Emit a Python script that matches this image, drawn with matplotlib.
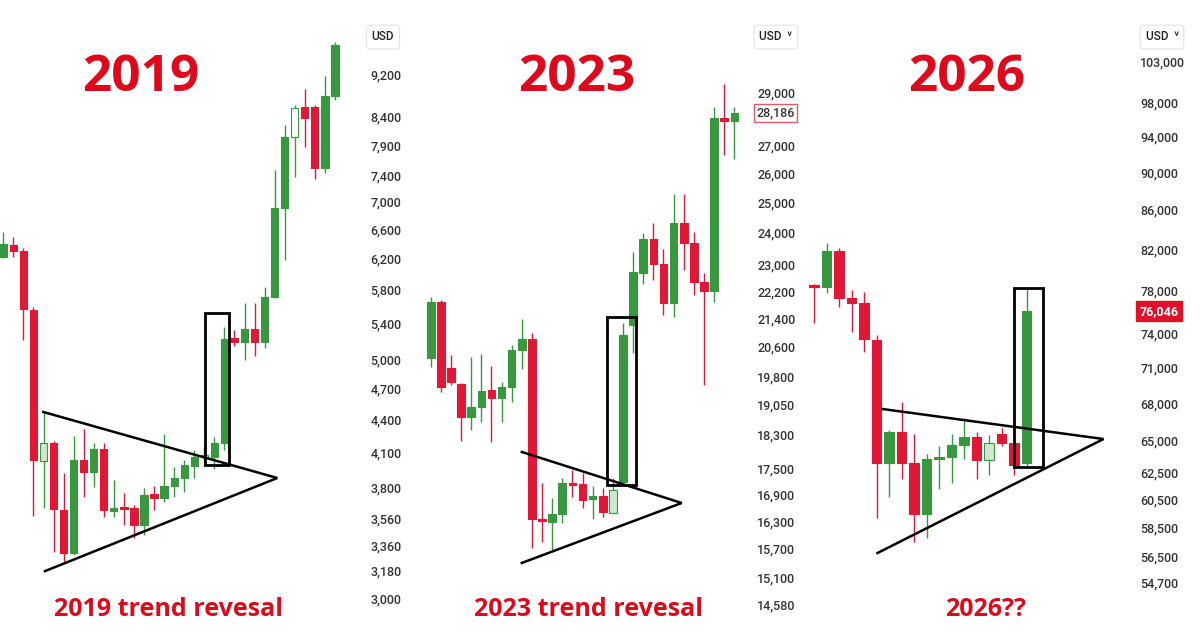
import matplotlib
matplotlib.use("Agg")
import matplotlib.pyplot as plt
import matplotlib.transforms as mtransforms
from matplotlib.patches import Rectangle
from matplotlib.ticker import FixedLocator, NullLocator, FuncFormatter
import numpy as np

# ---- 2019 panel (BTC weekly candles, USD) ----
open_2019 = [6220, 6381, 6301, 5554, 4022, 4179, 3621, 3303, 4030, 3928, 4126, 3613, 3645, 3637,
             3507, 3747, 3715, 3812, 3878, 3979, 4056, 4056, 4179, 5231, 5186, 5333, 5186, 5710,
             6908, 8040, 8573, 8573, 7525, 8777]
close_2019 = [6395, 6301, 5566, 4030, 4179, 3629, 3303, 4030, 3928, 4126, 3621, 3637, 3629, 3507,
              3739, 3715, 3812, 3878, 3987, 4056, 4073, 4179, 5220, 5186, 5333, 5186, 5710, 6908,
              8040, 8555, 8374, 7525, 8777, 9790]
high_2019 = [6561, 6492, 6341, 5590, 4466, 4197, 3920, 4242, 4306, 4179, 4179, 3861, 3755, 3661,
             3796, 3812, 4260, 3970, 4030, 4117, 4144, 4233, 5355, 5321, 5638, 5638, 5833, 7493,
             8250, 8610, 8910, 8610, 9161, 9850]
low_2019 = [6207, 6220, 5209, 3575, 3637, 3310, 3240, 3289, 3723, 3804, 3567, 3567, 3507, 3411,
            3433, 3621, 3683, 3723, 3763, 3878, 3979, 3953, 4117, 5141, 4991, 5034, 5121, 5698,
            6181, 7381, 7870, 7350, 7444, 8703]
light_2019 = [4, 20]
hollow_2019 = [29]
ticks_2019 = [3000, 3180, 3360, 3560, 3800, 4100, 4400, 4700, 5000, 5400, 5800, 6200, 6600,
              7000, 7400, 7900, 8400, 9200]

# ---- 2023 panel ----
open_2023 = [20288, 21874, 20018, 19592, 18744, 18997, 19435, 19227, 19514, 20507, 20812, 16344,
             16279, 16454, 17153, 17130, 16788, 16857, 16476, 17176, 21208, 22742, 23805, 23019,
             21844, 24323, 23678, 22469, 22199, 28006, 27893]
close_2023 = [21874, 19514, 19645, 18744, 18997, 19409, 19227, 19514, 20507, 20812, 16344, 16300,
              16454, 17153, 17108, 16766, 16857, 16498, 16993, 20925, 22773, 23805, 23019, 21844,
              24323, 23678, 22469, 22199, 28006, 27893, 28186]
high_2023 = [22022, 21933, 20371, 19618, 20316, 20397, 20072, 19645, 20645, 21379, 20980, 17153,
             16811, 17269, 17456, 17385, 17084, 17038, 17269, 21264, 23393, 23998, 24323, 23487,
             25289, 25289, 24030, 22742, 28423, 29315, 28423]
low_2023 = [20046, 19383, 19567, 18149, 18419, 18618, 18125, 18618, 19124, 19991, 15719, 15846,
            15677, 16257, 16834, 16587, 16344, 16389, 16587, 17108, 20425, 22409, 22530, 21495,
            21437, 22835, 22081, 19567, 21874, 26650, 26506]
light_2023 = [18]
hollow_2023 = []
ticks_2023 = [14580, 15100, 15700, 16300, 16900, 17500, 18300, 19050, 19800, 20600, 21400,
              22200, 23000, 24000, 25000, 26000, 27000, 29000]
last_2023 = 28186

# ---- 2026 panel ----
open_2026 = [78497, 78308, 81806, 77268, 76802, 73430, 63250, 65674, 63250, 59453, 63556, 63713,
             64645, 65278, 63480, 65513, 64804, 63250]
close_2026 = [78308, 81806, 77268, 76802, 73518, 63250, 65674, 63250, 59453, 63556, 63713, 64645,
              65278, 63480, 64804, 64804, 63096, 76046]
high_2026 = [78591, 82602, 82099, 78023, 77834, 73878, 65833, 68108, 65513, 63942, 64568, 65513,
             66796, 65674, 65435, 65990, 65042, 78117]
low_2026 = [74961, 77741, 76430, 74147, 72369, 59165, 60693, 62032, 57468, 57745, 61283, 61734,
            63556, 62032, 62335, 64568, 62335, 62864]
light_2026 = [14]
hollow_2026 = []
ticks_2026 = [54700, 56500, 58500, 60500, 62500, 65000, 68000, 71000, 74000, 78000, 82000,
              86000, 90000, 94000, 98000, 103000]
last_2026 = 76046

# breakout boxes (candle index range, price range) and triangles (upper start, apex, lower start)
box_2019 = [(20.07, 22.5), (3987, 5519)]
box_2023 = [(17.45, 20.3), (17108, 21437)]
box_2026 = [(16.0, 18.3), (62940, 78214)]
tri_2019 = [(3.98, 4466), (27.26, 3878), (4.15, 3178)]
tri_2023 = [(9.0, 17883), (24.8, 16698), (9.0, 15406)]
tri_2026 = [(5.5, 67531), (23.16, 65117), (5.08, 56704)]

GREEN = "#37983f"
RED = "#de1836"
LIGHT = "#cfe7cf"
TITLE_RED = "#dc0a1c"

fig = plt.figure(figsize=(12, 6.42), dpi=100)
fig.patch.set_facecolor("white")


def draw_panel(rect, xlim, ylim, o, c, h, l, light, hollow, ticks, box, tri, width, pad):
    ax = fig.add_axes(rect)
    ax.set_yscale("log")
    x = np.arange(len(o))
    o = np.array(o); c = np.array(c)
    cols = np.where(c >= o, GREEN, RED)
    ax.vlines(x, l, h, colors=cols, lw=1.0, zorder=2)
    faces = []
    for i in x:
        if i in hollow:
            faces.append("white")
        elif i in light:
            faces.append(LIGHT)
        else:
            faces.append(cols[i])
    ax.bar(x, np.abs(c - o), bottom=np.minimum(o, c), width=width, color=faces,
           edgecolor=cols, linewidth=0.8, zorder=3)
    (x0, x1), (y0, y1) = box
    ax.add_patch(Rectangle((x0, y0), x1 - x0, y1 - y0, fill=False, ec="black", lw=2.0, zorder=4))
    tx = [tri[0][0], tri[1][0], tri[2][0]]
    ty = [tri[0][1], tri[1][1], tri[2][1]]
    ax.plot(tx, ty, color="black", lw=1.8, zorder=5, solid_joinstyle="miter")
    ax.set_xlim(*xlim)
    ax.set_ylim(*ylim)
    for s in ax.spines.values():
        s.set_visible(False)
    ax.set_xticks([])
    ax.yaxis.tick_right()
    ax.yaxis.set_major_locator(FixedLocator(ticks))
    ax.yaxis.set_minor_locator(NullLocator())
    ax.yaxis.set_major_formatter(FuncFormatter(lambda v, p: f"{int(round(v)):,}"))
    ax.tick_params(axis="y", length=0, pad=pad, labelsize=9, labelcolor="#333333")
    for t in ax.get_yticklabels():
        t.set_fontfamily("Roboto")
        t.set_fontweight("medium")
    ax.set_facecolor("none")
    return ax


ax1 = draw_panel([0, 0, 362 / 1200, 1], (-0.33, 35.69), (2731, 10777),
                 open_2019, close_2019, high_2019, low_2019, light_2019, hollow_2019, ticks_2019,
                 box_2019, tri_2019, 0.72, 6)
ax2 = draw_panel([412 / 1200, 0, 336 / 1200, 1], (-1.85, 31.35), (13854, 32817),
                 open_2023, close_2023, high_2023, low_2023, light_2023, hollow_2023, ticks_2023,
                 box_2023, tri_2023, 0.75, 6.5)
ax3 = draw_panel([803 / 1200, 0, 329 / 1200, 1], (-0.88, 25.44), (50901, 110932),
                 open_2026, close_2026, high_2026, low_2026, light_2026, hollow_2026, ticks_2026,
                 box_2026, tri_2026, 0.78, 6)

# last price tags
tr2 = mtransforms.blended_transform_factory(fig.transFigure, ax2.transData)
ax2.text(775.5 / 1200, last_2023, f"{last_2023:,}", transform=tr2, ha="center", va="center",
         fontsize=9, color="#333333", family="Roboto", fontweight="medium",
         bbox=dict(boxstyle="square,pad=0.2", fc="white", ec="#e05a6a", lw=1.0))
tr3 = mtransforms.blended_transform_factory(fig.transFigure, ax3.transData)
ax3.text(1159 / 1200, last_2026, f"{last_2026:,}", transform=tr3, ha="center", va="center",
         fontsize=9, color="white", family="Roboto", fontweight="bold",
         bbox=dict(boxstyle="square,pad=0.3", fc="#e0102b", ec="#e0102b", lw=1.0))

# currency selectors
for cx, lab in [(383, "USD"), (776, "USD  ˅"), (1162, "USD  ˅")]:
    fig.text(cx / 1200, 1 - 37 / 642, lab, ha="center", va="center", fontsize=8.5,
             color="#222222", family=["Roboto", "DejaVu Sans"], fontweight="medium",
             bbox=dict(boxstyle="round,pad=0.45,rounding_size=0.3", fc="white", ec="#e3e3e3", lw=0.8))

# big year titles
for cx, lab in [(141, "2019"), (577, "2023"), (967, "2026")]:
    fig.text(cx / 1200, 1 - 78 / 642, lab, ha="center", va="center", fontsize=37,
             color=TITLE_RED, family="Open Sans", fontweight="bold")

# captions
for cx, lab in [(168, "2019 trend revesal"), (588, "2023 trend revesal"), (986, "2026??")]:
    fig.text(cx / 1200, 1 - 609 / 642, lab, ha="center", va="center", fontsize=18,
             color=TITLE_RED, family="Open Sans", fontweight="bold")

fig.savefig("out.png", dpi=100)
